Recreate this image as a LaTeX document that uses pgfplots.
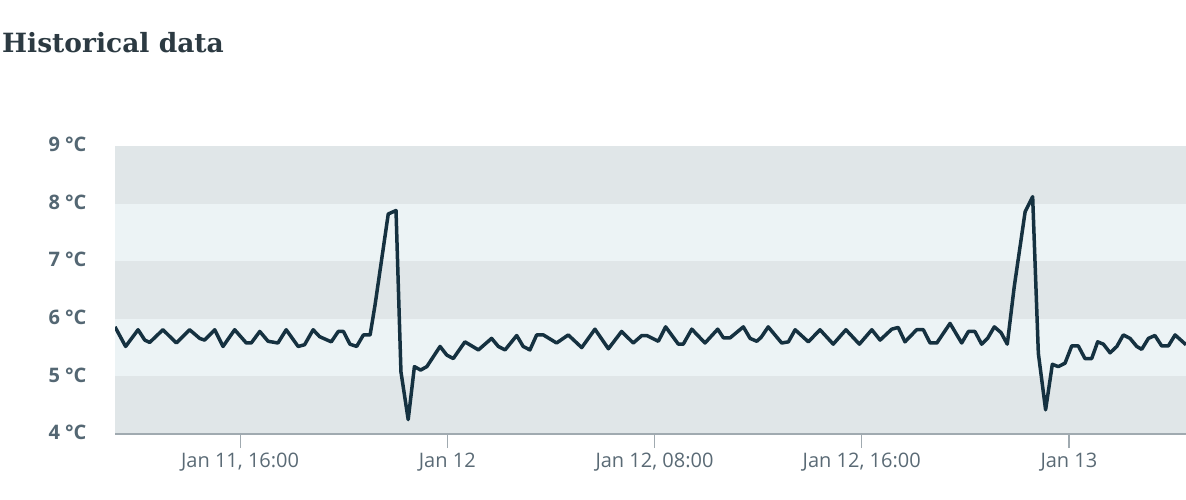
\documentclass[border=0pt]{standalone}
\usepackage{fontspec}
\setmainfont{Open Sans}
\newfontfamily\titlefont{DejaVu Serif}
\usepackage{pgfplots}
\pgfplotsset{compat=1.18}
\definecolor{bandD}{RGB}{224,230,232}
\definecolor{bandL}{RGB}{236,243,245}
\definecolor{linec}{RGB}{21,49,64}
\definecolor{titlec}{RGB}{44,58,66}
\definecolor{ylab}{RGB}{84,103,115}
\definecolor{xlab}{RGB}{90,106,117}
\definecolor{axc}{RGB}{160,170,176}
\pgfplotstableread{
x y
11.17 5.86
11.58 5.52
12.06 5.81
12.32 5.63
12.51 5.59
13.02 5.81
13.54 5.58
14.05 5.81
14.44 5.66
14.63 5.63
15.02 5.81
15.34 5.52
15.79 5.81
16.24 5.58
16.43 5.58
16.76 5.78
17.08 5.61
17.46 5.58
17.78 5.81
18.24 5.52
18.49 5.55
18.82 5.81
19.07 5.69
19.52 5.60
19.79 5.78
19.99 5.78
20.24 5.56
20.50 5.52
20.76 5.72
21.02 5.72
21.21 6.24
21.72 7.82
22.02 7.88
22.21 5.08
22.49 4.25
22.73 5.17
22.97 5.11
23.21 5.17
23.72 5.52
23.98 5.37
24.23 5.31
24.68 5.60
25.20 5.46
25.71 5.66
25.97 5.52
26.23 5.46
26.68 5.71
26.93 5.52
27.19 5.46
27.45 5.72
27.71 5.72
28.22 5.58
28.67 5.72
29.19 5.50
29.70 5.82
30.22 5.48
30.73 5.78
31.18 5.58
31.51 5.71
31.70 5.71
32.15 5.61
32.43 5.86
32.92 5.56
33.11 5.56
33.44 5.82
33.95 5.58
34.44 5.82
34.66 5.67
34.92 5.67
35.43 5.86
35.69 5.66
35.95 5.61
36.12 5.68
36.39 5.86
36.91 5.58
37.17 5.60
37.43 5.81
37.94 5.60
38.39 5.81
38.90 5.56
39.39 5.81
39.91 5.56
40.39 5.81
40.71 5.63
41.16 5.82
41.41 5.85
41.67 5.60
42.12 5.81
42.38 5.81
42.64 5.58
42.90 5.58
43.41 5.92
43.86 5.58
44.12 5.78
44.37 5.78
44.63 5.56
44.86 5.66
45.12 5.86
45.38 5.76
45.62 5.56
45.89 6.56
46.31 7.86
46.60 8.12
46.82 5.40
47.10 4.42
47.36 5.21
47.59 5.17
47.85 5.23
48.11 5.53
48.36 5.53
48.62 5.31
48.88 5.31
49.11 5.60
49.33 5.56
49.59 5.41
49.85 5.52
50.10 5.72
50.36 5.66
50.62 5.52
50.81 5.47
51.07 5.66
51.32 5.71
51.58 5.53
51.84 5.53
52.10 5.72
52.52 5.55
}\tempdata
\begin{document}
\begin{tikzpicture}[x=1pt,y=1pt]
\path[use as bounding box] (0,0) rectangle (1186,499);
\node[anchor=base west, inner sep=0, text=titlec, font=\titlefont\bfseries\fontsize{26.5}{30}\selectfont] at (2,446) {Historical data};
\begin{axis}[at={(115pt,65pt)}, anchor=south west, scale only axis,
  width=1071pt, height=288pt,
  xmin=11.17, xmax=52.52, ymin=4, ymax=9,
  axis x line*=bottom, axis y line*=left,
  y axis line style={draw=none},
  x axis line style={draw=axc, line width=1.6pt},
  axis on top,
  tick align=outside,
  major tick length=14pt,
  xtick={16,24,32,40,48},
  xticklabels={{Jan 11, 16:00},{Jan 12},{Jan 12, 08:00},{Jan 12, 16:00},{Jan 13}},
  ytick={4,5,6,7,8,9},
  yticklabels={4 °C,5 °C,6 °C,7 °C,8 °C,9 °C},
  xtick style={draw=axc, line width=1.2pt},
  ytick style={draw=none},
  xticklabel style={font=\fontsize{20}{24}\selectfont, text=xlab, yshift=-1pt},
  yticklabel style={font=\bfseries\fontsize{20}{24}\selectfont, text=ylab, xshift=-11pt, yshift=1.5pt},
]
\fill[bandD] (axis cs:11.17,8) rectangle (axis cs:52.52,9);
\fill[bandL] (axis cs:11.17,7) rectangle (axis cs:52.52,8);
\fill[bandD] (axis cs:11.17,6) rectangle (axis cs:52.52,7);
\fill[bandL] (axis cs:11.17,5) rectangle (axis cs:52.52,6);
\fill[bandD] (axis cs:11.17,4) rectangle (axis cs:52.52,5);
\addplot[linec, line width=3.5pt, line join=round, no marks] table[x=x,y=y] {\tempdata};
\end{axis}
\end{tikzpicture}
\end{document}
